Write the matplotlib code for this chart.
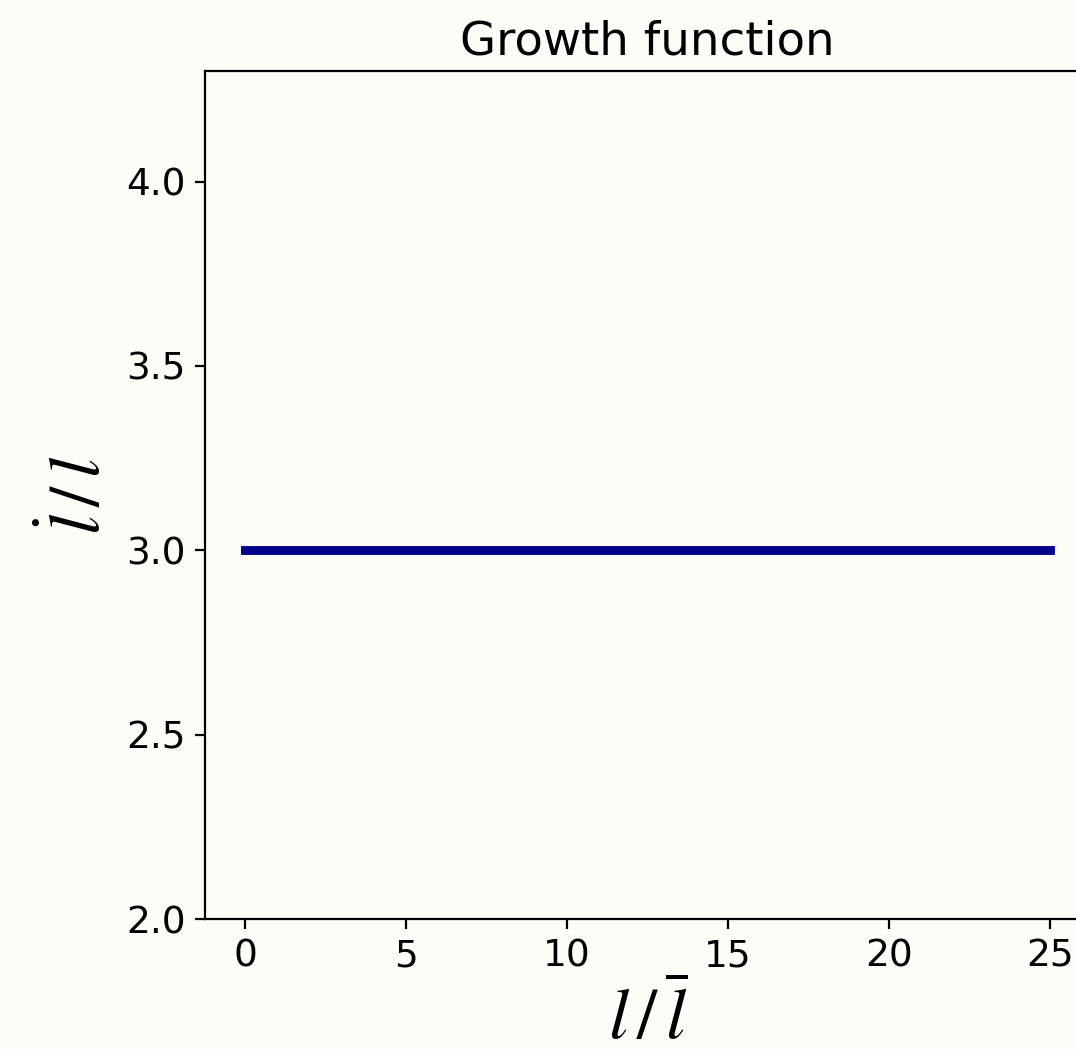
import numpy as np
import matplotlib
matplotlib.use('Agg')
import matplotlib.pyplot as plt

plt.rcParams['mathtext.fontset'] = 'stix'

# growth rate l_dot/l vs l/l_bar (constant)
l_ratio = [0, 5, 10, 15, 20, 25]
growth = [3.0, 3.0, 3.0, 3.0, 3.0, 3.0]
yticks = [2.0, 2.5, 3.0, 3.5, 4.0]

bg = '#fdfdf8'
fig = plt.figure(figsize=(5.38, 5.245), dpi=200, facecolor=bg)
W, H = 1076, 1049
ax = fig.add_axes([205 / W, (H - 919) / H, (1090 - 205) / W, (919 - 71) / H])
ax.set_facecolor(bg)

ax.plot(l_ratio, growth, color='darkblue', lw=3.2)
ax.set_xlim(-1.25, 26.25)
ax.set_ylim(2.0, 4.3)
ax.set_yticks(yticks)
ax.set_xticks(l_ratio)
ax.tick_params(labelsize=13.5)

ax.set_title('Growth function', fontsize=16.8)
ax.set_xlabel(r'$l\,/\,\overline{l}$', fontsize=26, labelpad=2.5)
ax.set_ylabel(r'$\dot{l}\,/\,l$', fontsize=26, labelpad=4)

fig.savefig('out.png', dpi=200, facecolor=bg)
